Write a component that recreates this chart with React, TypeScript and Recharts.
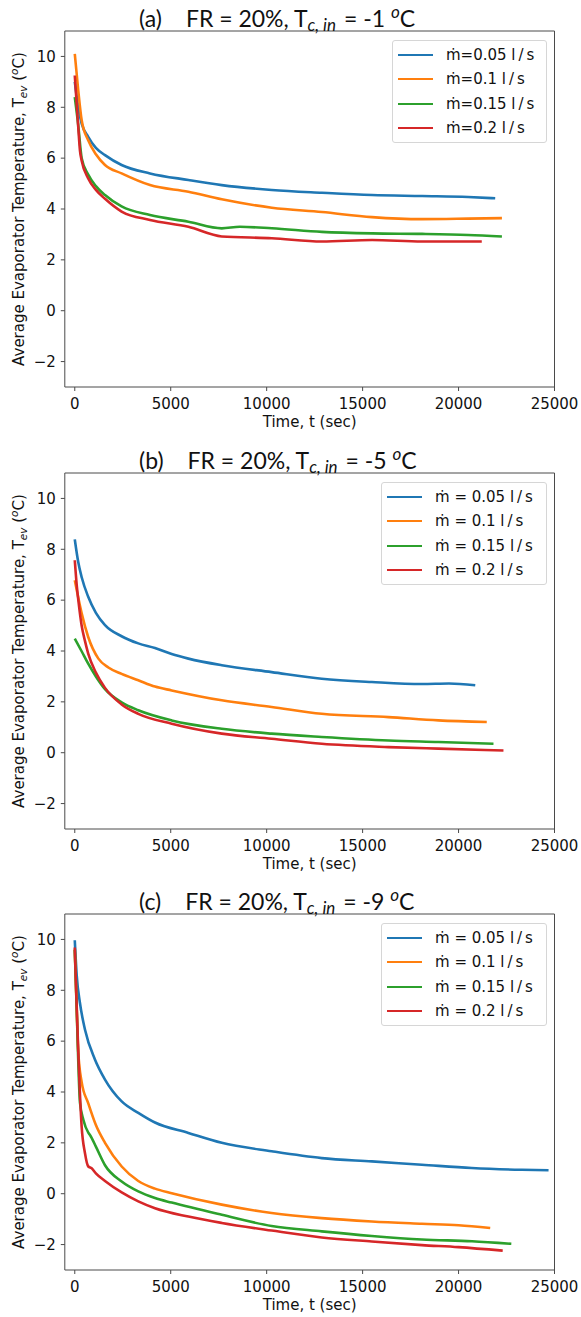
import React from 'react';
import { LineChart, Line, XAxis, YAxis, ReferenceLine } from 'recharts';

// matplotlib default cycle
const COLORS = ['#1f77b4', '#ff7f0e', '#2ca02c', '#d62728'];
const FLOW_RATES = ['0.05', '0.1', '0.15', '0.2'];
const X_TICKS = [0, 5000, 10000, 15000, 20000, 25000];
const Y_TICKS = [-2, 0, 2, 4, 6, 8, 10];

// (a) Tc,in = -1 oC
const aTime005 = [0, 180, 360, 700, 1100, 1575, 2440, 3920, 5920, 7660, 10270, 12880, 15490, 18100, 20500, 21910];
const aTemp005 = [9.0, 8.0, 7.36, 6.84, 6.4, 6.12, 5.73, 5.4, 5.14, 4.94, 4.75, 4.64, 4.55, 4.51, 4.47, 4.42];
const aTime01 = [0, 180, 360, 700, 1100, 1575, 2440, 3920, 5920, 7660, 10270, 12880, 15490, 18100, 20500, 22260];
const aTemp01 = [10.1, 8.67, 7.49, 6.7, 6.15, 5.73, 5.4, 4.94, 4.68, 4.38, 4.05, 3.88, 3.68, 3.6, 3.62, 3.64];
const aTime015 = [0, 180, 360, 700, 1100, 1575, 2440, 3920, 5920, 7660, 8600, 10270, 12880, 15490, 18100, 20500, 22260];
const aTemp015 = [8.4, 7.3, 6.0, 5.35, 4.9, 4.55, 4.1, 3.76, 3.5, 3.24, 3.3, 3.24, 3.1, 3.04, 3.02, 2.98, 2.92];
const aTime02 = [0, 180, 270, 360, 700, 1100, 1575, 2440, 3920, 5920, 7660, 10270, 12880, 15490, 18100, 21210];
const aTemp02 = [9.25, 7.23, 6.3, 5.9, 5.2, 4.75, 4.4, 3.9, 3.57, 3.3, 2.92, 2.85, 2.72, 2.78, 2.72, 2.72];

// (b) Tc,in = -5 oC
const bTime005 = [0, 180, 360, 700, 1100, 1575, 2440, 3310, 4180, 5050, 5920, 7660, 10260, 12870, 15480, 18090, 19500, 20870];
const bTemp005 = [8.39, 7.5, 6.9, 6.13, 5.5, 5.02, 4.58, 4.3, 4.12, 3.88, 3.7, 3.44, 3.17, 2.91, 2.78, 2.7, 2.72, 2.65];
const bTime01 = [0, 180, 360, 700, 1230, 1750, 2440, 3310, 4180, 5050, 7660, 10260, 12870, 16350, 18950, 21470];
const bTemp01 = [6.78, 6.1, 5.48, 4.55, 3.7, 3.35, 3.1, 2.85, 2.6, 2.45, 2.06, 1.8, 1.53, 1.4, 1.27, 1.21];
const bTime015 = [0, 350, 700, 1100, 1575, 2440, 3310, 5050, 7660, 10260, 12870, 16350, 18950, 21820];
const bTemp015 = [4.49, 4.0, 3.5, 3.0, 2.5, 1.98, 1.67, 1.27, 0.94, 0.75, 0.62, 0.48, 0.42, 0.35];
const bTime02 = [0, 100, 200, 357, 530, 700, 1100, 1575, 2440, 3310, 5050, 7660, 10260, 12870, 16350, 18950, 22340];
const bTemp02 = [7.57, 6.6, 5.9, 5.0, 4.4, 3.9, 3.15, 2.55, 1.9, 1.53, 1.14, 0.75, 0.55, 0.35, 0.22, 0.16, 0.09];

// (c) Tc,in = -9 oC
const cTime005 = [0, 100, 270, 530, 1050, 1575, 2445, 3310, 4180, 5920, 7660, 10260, 12870, 15480, 18090, 20690, 23300, 24690];
const cTemp005 = [9.97, 8.6, 7.5, 6.46, 5.28, 4.49, 3.63, 3.18, 2.8, 2.39, 2.0, 1.67, 1.4, 1.27, 1.14, 1.01, 0.94, 0.92];
const cTime01 = [0, 90, 184, 357, 704, 1100, 1575, 2445, 3310, 4180, 5050, 7660, 10260, 12870, 15480, 18090, 20000, 21650];
const cTemp01 = [9.6, 7.5, 5.55, 4.4, 3.55, 2.7, 2.0, 1.07, 0.5, 0.2, 0.02, -0.43, -0.76, -0.96, -1.09, -1.18, -1.24, -1.35];
const cTime015 = [0, 97, 184, 271, 450, 704, 800, 1100, 1575, 2445, 3310, 4180, 5050, 7660, 10260, 12870, 15480, 18090, 20700, 22750];
const cTemp015 = [9.6, 7.37, 5.15, 3.58, 2.9, 2.4, 2.3, 1.85, 1.12, 0.48, 0.09, -0.17, -0.35, -0.83, -1.27, -1.48, -1.66, -1.8, -1.87, -1.97];
const cTime02 = [0, 90, 184, 357, 530, 704, 880, 1100, 1575, 2445, 3310, 4180, 5920, 7660, 10260, 12870, 15480, 18090, 20000, 22300];
const cTemp02 = [9.68, 7.6, 5.55, 2.65, 1.6, 1.07, 1.0, 0.8, 0.5, 0.05, -0.3, -0.57, -0.9, -1.15, -1.45, -1.72, -1.88, -2.02, -2.1, -2.24];

const zip = (t: number[], v: number[]) => t.map((x, i) => ({ t: x, v: v[i] }));

const CHART_W = 581;
const TOP_PAD = 30;
const PLOT_H = 356;
const AXIS_H = 50;
const Y_AXIS_W = 64.8;
const RIGHT_PAD = 26.5;
const FRAME = '#4a4a4a';
const FONT = "'DejaVu Sans', sans-serif";

interface PanelProps {
  top: number;
  tag: string;
  tcin: string;
  series: { t: number; v: number }[][];
  compactLegend?: boolean;
}

const Panel: React.FC<PanelProps> = ({ top, tag, tcin, series, compactLegend }) => {
  const plotLeft = Y_AXIS_W;
  const plotRight = CHART_W - RIGHT_PAD;
  const plotBottom = TOP_PAD + PLOT_H;
  const eq = compactLegend ? '=' : ' = ';
  const legendLeft = compactLegend ? 392 : 381;
  const legendWidth = compactLegend ? 155 : 166;

  return (
    <div style={{ position: 'absolute', left: 0, top: Math.round(top - TOP_PAD), width: CHART_W, height: TOP_PAD + PLOT_H + AXIS_H }}>
      <LineChart width={CHART_W} height={TOP_PAD + PLOT_H + AXIS_H} margin={{ top: TOP_PAD, right: RIGHT_PAD, left: 0, bottom: 0 }}>
        <XAxis
          type="number"
          dataKey="t"
          domain={[-520, 25000]}
          ticks={X_TICKS}
          allowDataOverflow
          height={AXIS_H}
          stroke={FRAME}
          tickSize={4}
          tickMargin={7}
          tick={{ fill: '#111', fontSize: 15, fontFamily: FONT }}
        />
        <YAxis
          type="number"
          domain={[-3, 11]}
          ticks={Y_TICKS}
          allowDataOverflow
          width={Y_AXIS_W}
          stroke={FRAME}
          tickSize={4}
          tickMargin={5}
          tick={{ fill: '#111', fontSize: 15, fontFamily: FONT }}
          tickFormatter={(v: number) => (v < 0 ? `\u2212${Math.abs(v)}` : `${v}`)}
        />
        <ReferenceLine y={11} stroke={FRAME} strokeWidth={1} />
        <ReferenceLine x={25000} stroke={FRAME} strokeWidth={1} />
        {series.map((data, i) => (
          <Line
            key={FLOW_RATES[i]}
            data={data}
            dataKey="v"
            type="monotone"
            stroke={COLORS[i]}
            strokeWidth={2.6}
            dot={false}
            isAnimationActive={false}
          />
        ))}
      </LineChart>

      <svg
        width={CHART_W}
        height={TOP_PAD + PLOT_H + AXIS_H}
        style={{ position: 'absolute', left: 0, top: 0, pointerEvents: 'none', overflow: 'visible', whiteSpace: 'pre' }}
      >
        <text x={139} y={TOP_PAD - 4} fontFamily="Lato, 'Open Sans', sans-serif" fontSize={23} fill="#111">
          <tspan>({tag})</tspan>
          <tspan dx={24}>FR = 20%, T</tspan>
          <tspan dy={4} fontSize={17} fontStyle="italic">{'c, in'}</tspan>
          <tspan dy={-4} dx={2}>{` =  ${tcin}  `}</tspan>
          <tspan dy={-9} fontSize={17} fontStyle="italic">o</tspan>
          <tspan dy={9}>C</tspan>
        </text>
        <text
          x={24}
          y={TOP_PAD + PLOT_H / 2}
          transform={`rotate(-90, 24, ${TOP_PAD + PLOT_H / 2})`}
          textAnchor="middle"
          fontFamily={FONT}
          fontSize={15}
          fill="#111"
        >
          <tspan>Average Evaporator Temperature, T</tspan>
          <tspan dy={3} fontSize={10.5} fontStyle="italic">ev</tspan>
          <tspan dy={-3}> (</tspan>
          <tspan dy={-6} fontSize={10.5} fontStyle="italic">o</tspan>
          <tspan dy={6}>C)</tspan>
        </text>
        <text x={(plotLeft + plotRight) / 2} y={plotBottom + 40} textAnchor="middle" fontFamily={FONT} fontSize={15} fill="#111">
          Time, t (sec)
        </text>
      </svg>

      <div
        style={{
          position: 'absolute',
          left: legendLeft,
          top: TOP_PAD + 9,
          width: legendWidth,
          height: 103,
          boxSizing: 'border-box',
          border: '1px solid #d6d6d6',
          borderRadius: 3,
          background: 'rgba(255,255,255,0.8)',
          fontFamily: FONT,
          fontSize: 15,
          color: '#111',
        }}
      >
        {FLOW_RATES.map((rate, i) => (
          <div key={rate} style={{ position: 'absolute', left: 0, top: 2 + Math.round(i * 24.4), height: 24, width: '100%' }}>
            <div style={{ position: 'absolute', left: 5, top: 11, width: 35, height: 2, background: COLORS[i] }} />
            <span style={{ position: 'absolute', left: 53, top: 2, lineHeight: '20px', whiteSpace: 'pre' }}>
              {`\u1E41${eq}${rate} l\u2009/\u2009s`}
            </span>
          </div>
        ))}
      </div>
    </div>
  );
};

const App: React.FC = () => {
  const panelA = [zip(aTime005, aTemp005), zip(aTime01, aTemp01), zip(aTime015, aTemp015), zip(aTime02, aTemp02)];
  const panelB = [zip(bTime005, bTemp005), zip(bTime01, bTemp01), zip(bTime015, bTemp015), zip(bTime02, bTemp02)];
  const panelC = [zip(cTime005, cTemp005), zip(cTime01, cTemp01), zip(cTime015, cTemp015), zip(cTime02, cTemp02)];

  return (
    <div style={{ position: 'absolute', left: 0, top: 0, width: 581, height: 1317, background: '#fff' }}>
      <Panel top={30.5} tag="a" tcin="-1" series={panelA} compactLegend />
      <Panel top={472.9} tag="b" tcin="-5" series={panelB} />
      <Panel top={914} tag="c" tcin="-9" series={panelC} />
    </div>
  );
};

export default App;
